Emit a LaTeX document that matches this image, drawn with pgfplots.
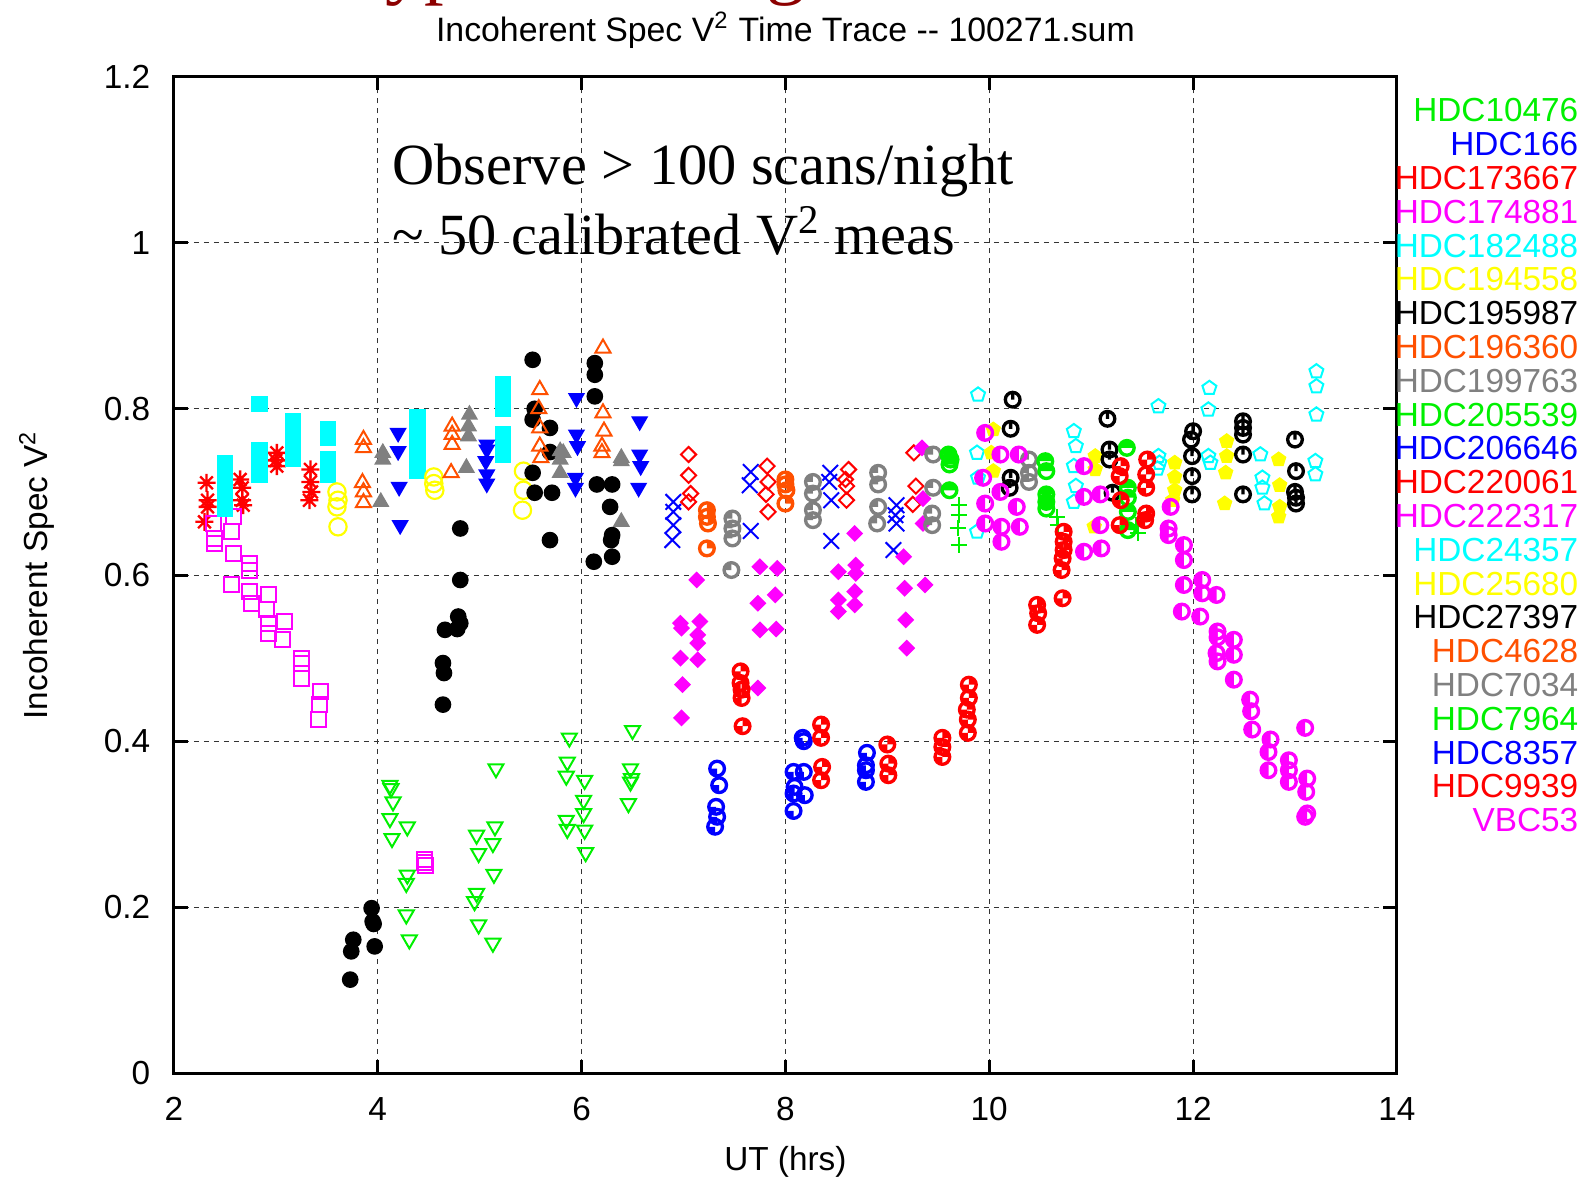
\documentclass[border=0pt]{standalone}
\usepackage{pgfplots}
\pgfplotsset{compat=1.18}
\usepackage{fontspec}
\setmainfont{Liberation Sans}
\newfontfamily\tnr{Liberation Serif}
\definecolor{cgreen}{RGB}{0,240,0}
\definecolor{cblue}{RGB}{0,0,255}
\definecolor{cred}{RGB}{255,0,0}
\definecolor{cmag}{RGB}{255,0,255}
\definecolor{ccyan}{RGB}{0,255,255}
\definecolor{cyel}{RGB}{255,255,0}
\definecolor{corange}{RGB}{255,80,0}
\definecolor{cgray}{RGB}{128,128,128}
\definecolor{titlered}{RGB}{140,0,0}
\pgfdeclareplotmark{gstar}{%
  \pgfpathmoveto{\pgfqpoint{-\pgfplotmarksize}{0pt}}\pgfpathlineto{\pgfqpoint{\pgfplotmarksize}{0pt}}%
  \pgfpathmoveto{\pgfqpoint{0pt}{-\pgfplotmarksize}}\pgfpathlineto{\pgfqpoint{0pt}{\pgfplotmarksize}}%
  \pgfpathmoveto{\pgfqpoint{-.707\pgfplotmarksize}{-.707\pgfplotmarksize}}\pgfpathlineto{\pgfqpoint{.707\pgfplotmarksize}{.707\pgfplotmarksize}}%
  \pgfpathmoveto{\pgfqpoint{-.707\pgfplotmarksize}{.707\pgfplotmarksize}}\pgfpathlineto{\pgfqpoint{.707\pgfplotmarksize}{-.707\pgfplotmarksize}}%
  \pgfusepathqstroke}
\newcommand\gpwedge[2]{\pgfpathmoveto{\pgfpointorigin}\pgfpathlineto{\pgfpointpolar{#1}{\pgfplotmarksize}}\pgfpatharc{#1}{#2}{\pgfplotmarksize}\pgfpathclose}
\newcommand\gpcircle{\pgfpathcircle{\pgfpointorigin}{\pgfplotmarksize}\pgfusepathqstroke}
\pgfdeclareplotmark{C0}{\pgfpathcircle{\pgfpointorigin}{\pgfplotmarksize}\pgfpathmoveto{\pgfpointorigin}\pgfpathlineto{\pgfqpoint{0pt}{\pgfplotmarksize}}\pgfusepathqstroke}
\pgfdeclareplotmark{C1}{\gpwedge{0}{90}\pgfusepathqfill\gpcircle}
\pgfdeclareplotmark{C2}{\gpwedge{90}{180}\pgfusepathqfill\gpcircle}
\pgfdeclareplotmark{C3}{\gpwedge{0}{180}\pgfusepathqfill\gpcircle}
\pgfdeclareplotmark{C4}{\gpwedge{180}{270}\pgfusepathqfill\gpcircle}
\pgfdeclareplotmark{C5}{\gpwedge{0}{90}\gpwedge{180}{270}\pgfusepathqfill\gpcircle}
\pgfdeclareplotmark{C6}{\gpwedge{90}{270}\pgfusepathqfill\gpcircle}
\begin{document}
\begin{tikzpicture}
\begin{axis}[
  width=366.9pt, height=299.1pt, scale only axis,
  xmin=2, xmax=14, ymin=0, ymax=1.2,
  xtick={2,4,6,8,10,12,14},
  ytick={0,0.2,0.4,0.6,0.8,1,1.2},
  yticklabels={0,0.2,0.4,0.6,0.8,1,1.2},
  grid=major,
  major grid style={black!80, line width=0.3pt, dash pattern=on 1.5pt off 1.5pt},
  axis line style={line width=0.9pt},
  tick style={line width=0.9pt, black},
  major tick length=4.2pt,
  /pgf/number format/assume math mode=true,
  ticklabel style={font=\fontsize{10}{12}\selectfont},
  xticklabel style={yshift=-3.7pt},
  yticklabel style={xshift=-3.6pt},
  xlabel={UT (hrs)},
  ylabel={Incoherent Spec V\textsuperscript{2}},
  every axis x label/.style={at={(axis description cs:0.5,-0.0968)}, anchor=base, font=\fontsize{10}{12}\selectfont},
  every axis y label/.style={at={(axis description cs:-0.1033,0.5)}, rotate=90, anchor=base, font=\fontsize{10}{12}\selectfont},
  title={Incoherent Spec V\textsuperscript{2} Time Trace -{}- 100271.sum},
  every axis title/.style={at={(axis description cs:0.5,1.0356)}, anchor=base, font=\fontsize{10.15}{12}\selectfont},
  legend image code/.code={},
  legend cell align=right,
  legend style={at={(axis description cs:1.1488,0.9796)}, anchor=north east, draw=none, fill=none,
    inner sep=0pt, row sep=0pt,
    nodes={inner sep=0pt, text height=7.3pt, text depth=2.84pt, font=\fontsize{10}{12}\selectfont}},
]
% 1 HDC10476
\addplot[only marks, mark=+, color=cgreen, mark size=2.4pt, line width=0.6pt] coordinates {
(9.70,0.684)(9.70,0.672)(9.69,0.656)(9.70,0.636)(10.66,0.670)(10.67,0.660)(11.46,0.650)(11.44,0.660)};
\addlegendentry[text=cgreen]{HDC10476}
% 2 HDC166
\addplot[only marks, mark=x, color=cblue, mark size=3.3pt, line width=0.6pt] coordinates {
(6.90,0.688)(6.90,0.676)(6.90,0.660)(6.89,0.642)(7.66,0.724)(7.65,0.708)(7.66,0.653)
(8.44,0.723)(8.43,0.712)(8.45,0.690)(8.45,0.641)(9.09,0.684)(9.08,0.672)(9.09,0.662)(9.06,0.630)};
\addlegendentry[text=cblue]{HDC166}
% 3 HDC173667
\addplot[only marks, mark=gstar, color=cred, mark size=2.7pt, line width=0.7pt] coordinates {
(2.32,0.711)(2.33,0.682)(2.30,0.664)(2.33,0.690)(2.65,0.715)(2.67,0.705)(2.67,0.690)(2.68,0.684)
(3.01,0.747)(3.01,0.731)(3.00,0.738)(3.34,0.727)(3.34,0.712)(3.33,0.690)(3.35,0.700)};
\addlegendentry[text=cred]{HDC173667}
% 4 HDC174881
\addplot[only marks, mark=square, color=cmag, mark size=2.25pt, line width=0.6pt] coordinates {
(2.39,0.662)(2.58,0.670)(2.57,0.652)(2.40,0.644)(2.40,0.638)(2.58,0.626)(2.74,0.614)(2.74,0.606)
(2.57,0.589)(2.74,0.580)(2.76,0.566)(2.93,0.576)(2.91,0.558)(2.93,0.542)(2.93,0.530)(3.09,0.544)
(3.07,0.522)(3.25,0.500)(3.25,0.494)(3.25,0.476)(3.44,0.460)(3.43,0.444)(3.42,0.426)
(4.46,0.258)(4.47,0.250)(4.46,0.254)};
\addlegendentry[text=cmag]{HDC174881}
% 5 HDC182488
\addplot[only marks, mark=square*, color=ccyan, mark size=2.25pt] coordinates {
(2.50,0.735)(2.50,0.720)(2.50,0.705)(2.50,0.695)(2.50,0.680)
(2.84,0.806)(2.84,0.750)(2.84,0.740)(2.84,0.730)(2.84,0.720)
(3.17,0.785)(3.17,0.770)(3.17,0.755)(3.17,0.740)
(3.51,0.775)(3.51,0.765)(3.51,0.740)(3.51,0.720)
(4.39,0.790)(4.39,0.780)(4.39,0.765)(4.39,0.750)(4.39,0.735)(4.39,0.725)
(5.23,0.830)(5.23,0.810)(5.23,0.800)(5.23,0.770)(5.23,0.755)(5.23,0.745)};
\addlegendentry[text=ccyan]{HDC182488}
% 6 HDC194558
\addplot[only marks, mark=o, color=cyel, mark size=2.6pt, line width=0.65pt] coordinates {
(3.60,0.700)(3.61,0.690)(3.60,0.682)(3.61,0.658)(4.55,0.718)(4.55,0.710)(4.56,0.702)
(5.43,0.725)(5.43,0.702)(5.42,0.678)};
\addlegendentry[text=cyel]{HDC194558}
% 7 HDC195987
\addplot[only marks, mark=*, color=black, mark size=2.3pt] coordinates {
(3.73,0.113)(3.74,0.147)(3.76,0.161)(3.94,0.199)(3.96,0.180)(3.97,0.153)(3.95,0.183)
(4.81,0.656)(4.81,0.594)(4.79,0.550)(4.81,0.542)(4.78,0.535)(4.66,0.534)(4.64,0.494)(4.65,0.482)(4.64,0.444)
(5.52,0.859)(5.54,0.800)(5.52,0.787)(5.52,0.723)(5.54,0.699)(5.69,0.777)(5.69,0.748)(5.71,0.699)(5.69,0.642)
(6.13,0.855)(6.13,0.841)(6.13,0.815)(6.15,0.709)(6.30,0.709)(6.28,0.682)(6.30,0.648)(6.29,0.642)(6.30,0.622)(6.12,0.616)};
\addlegendentry[text=black]{HDC195987}
% 8 HDC196360
\addplot[only marks, mark=triangle, color=corange, mark size=2.6pt, line width=0.6pt] coordinates {
(3.86,0.763)(3.86,0.753)(3.85,0.711)(3.86,0.700)(3.86,0.687)(4.73,0.779)(4.73,0.769)(4.73,0.757)(4.72,0.723)
(5.59,0.823)(5.58,0.800)(5.59,0.777)(5.59,0.755)(5.60,0.741)
(6.21,0.873)(6.21,0.795)(6.22,0.773)(6.20,0.755)(6.20,0.747)};
\addlegendentry[text=corange]{HDC196360}
% 9 HDC199763
\addplot[only marks, mark=triangle*, color=cgray, mark size=2.6pt] coordinates {
(4.05,0.747)(4.05,0.739)(4.03,0.688)(4.90,0.793)(4.89,0.779)(4.89,0.767)(4.87,0.729)
(5.79,0.749)(5.79,0.739)(5.79,0.723)(5.82,0.747)(6.39,0.741)(6.39,0.737)(6.39,0.664)};
\addlegendentry[text=cgray]{HDC199763}
% 10 HDC205539
\addplot[only marks, mark=triangle, mark options={rotate=180}, color=cgreen, mark size=2.6pt, line width=0.6pt] coordinates {
(4.12,0.347)(4.13,0.343)(4.15,0.327)(4.12,0.307)(4.14,0.283)(4.29,0.297)(4.29,0.239)(4.28,0.229)(4.28,0.191)(4.31,0.161)
(5.16,0.367)(4.97,0.287)(5.15,0.297)(4.99,0.265)(5.13,0.277)(5.14,0.240)(4.97,0.217)(4.95,0.207)(4.99,0.179)(5.13,0.157)
(5.88,0.404)(5.86,0.375)(5.85,0.358)(6.03,0.353)(6.02,0.329)(6.02,0.313)(5.85,0.305)(5.86,0.294)(6.03,0.293)(6.04,0.266)
(6.50,0.413)(6.48,0.367)(6.48,0.351)(6.46,0.325)(6.49,0.355)};
\addlegendentry[text=cgreen]{HDC205539}
% 11 HDC206646
\addplot[only marks, mark=triangle*, mark options={rotate=180}, color=cblue, mark size=2.6pt] coordinates {
(4.20,0.771)(4.20,0.749)(4.21,0.706)(4.22,0.660)(5.07,0.757)(5.07,0.751)(5.06,0.737)(5.07,0.721)(5.07,0.710)
(5.95,0.813)(5.95,0.769)(5.96,0.755)(5.94,0.717)(5.94,0.705)(6.57,0.785)(6.57,0.745)(6.58,0.731)(6.56,0.705)};
\addlegendentry[text=cblue]{HDC206646}
% 12 HDC220061
\addplot[only marks, mark=square, mark options={rotate=45}, color=cred, mark size=1.6pt, line width=0.6pt] coordinates {
(7.05,0.745)(7.05,0.720)(7.07,0.698)(7.05,0.688)(7.82,0.731)(7.83,0.712)(7.81,0.697)(7.83,0.676)
(8.62,0.727)(8.59,0.715)(8.60,0.707)(8.60,0.690)(9.26,0.747)(9.28,0.707)(9.25,0.685)};
\addlegendentry[text=cred]{HDC220061}
% 13 HDC222317
\addplot[only marks, mark=square*, mark options={rotate=45}, color=cmag, mark size=1.6pt] coordinates {
(7.13,0.594)(6.97,0.542)(6.98,0.536)(7.16,0.544)(7.14,0.528)(7.14,0.518)(6.97,0.500)(7.14,0.498)(6.99,0.468)(6.98,0.428)
(7.75,0.610)(7.92,0.608)(7.73,0.566)(7.90,0.576)(7.75,0.534)(7.91,0.535)(7.73,0.464)
(8.52,0.604)(8.68,0.650)(8.69,0.612)(8.69,0.602)(8.52,0.570)(8.68,0.580)(8.52,0.556)(8.68,0.564)
(9.16,0.622)(9.17,0.584)(9.37,0.588)(9.18,0.546)(9.19,0.512)(9.34,0.753)(9.35,0.692)(9.35,0.662)};
\addlegendentry[text=cmag]{HDC222317}
% 14 HDC24357
\addplot[only marks, mark=pentagon, color=ccyan, mark size=2.2pt, line width=0.6pt] coordinates {
(9.89,0.817)(9.88,0.747)(9.89,0.717)(9.88,0.652)(10.83,0.773)(10.85,0.755)(10.83,0.731)(10.85,0.707)(10.83,0.688)
(11.66,0.803)(11.66,0.743)(11.67,0.735)(11.65,0.728)(12.16,0.825)(12.15,0.799)(12.15,0.743)(12.17,0.735)
(12.66,0.745)(12.68,0.717)(12.68,0.705)(12.70,0.686)(13.21,0.845)(13.21,0.827)(13.21,0.793)(13.20,0.737)(13.20,0.721)};
\addlegendentry[text=ccyan]{HDC24357}
% 15 HDC25680
\addplot[only marks, mark=pentagon*, color=cyel, mark size=2.2pt] coordinates {
(10.04,0.775)(10.02,0.747)(10.04,0.725)(11.04,0.743)(11.04,0.727)(11.03,0.658)
(11.82,0.735)(11.82,0.718)(11.82,0.702)(11.80,0.690)(12.33,0.761)(12.33,0.743)(12.32,0.723)(12.31,0.686)
(12.84,0.739)(12.85,0.708)(12.85,0.682)(12.84,0.670)};
\addlegendentry[text=cyel]{HDC25680}
% 16 HDC27397
\addplot[only marks, mark=C0, color=black, mark size=2.2pt, line width=1pt] coordinates {
(10.23,0.811)(10.21,0.776)(10.21,0.717)(10.20,0.705)(11.16,0.788)(11.18,0.751)(11.18,0.739)(11.21,0.699)
(12.00,0.773)(11.98,0.763)(11.99,0.743)(11.99,0.719)(11.99,0.697)(12.49,0.785)(12.49,0.777)(12.49,0.769)(12.49,0.745)(12.49,0.697)
(13.00,0.763)(13.01,0.725)(13.00,0.700)(13.01,0.693)(13.01,0.686)};
\addlegendentry[text=black]{HDC27397}
% 17 HDC4628
\addplot[only marks, mark=C1, color=corange, mark size=2.2pt, line width=1pt] coordinates {
(7.23,0.678)(7.23,0.670)(7.24,0.662)(7.23,0.632)(8.00,0.715)(8.00,0.709)(8.01,0.702)(8.00,0.686)};
\addlegendentry[text=corange]{HDC4628}
% 18 HDC7034
\addplot[only marks, mark=C2, color=cgray, mark size=2.2pt, line width=1pt] coordinates {
(7.48,0.668)(7.48,0.656)(7.48,0.644)(7.47,0.606)(8.27,0.712)(8.27,0.698)(8.27,0.678)(8.27,0.666)
(8.91,0.723)(8.91,0.709)(8.91,0.682)(8.90,0.662)(9.45,0.745)(9.45,0.705)(9.44,0.674)(9.44,0.660)
(10.39,0.739)(10.39,0.723)(10.39,0.712)};
\addlegendentry[text=cgray]{HDC7034}
% 19 HDC7964
\addplot[only marks, mark=C3, color=cgreen, mark size=2.2pt, line width=1pt] coordinates {
(9.60,0.745)(9.62,0.739)(9.61,0.733)(9.61,0.702)(10.55,0.737)(10.56,0.725)(10.56,0.697)(10.56,0.688)(10.56,0.680)
(11.35,0.753)(11.36,0.705)(11.36,0.693)(11.36,0.676)(11.36,0.654)};
\addlegendentry[text=cgreen]{HDC7964}
% 20 HDC8357
\addplot[only marks, mark=C4, color=cblue, mark size=2.2pt, line width=1pt] coordinates {
(7.33,0.367)(7.35,0.347)(7.32,0.321)(7.33,0.309)(7.31,0.297)(8.17,0.404)(8.18,0.400)(8.08,0.363)(8.18,0.363)
(8.09,0.345)(8.08,0.337)(8.19,0.335)(8.08,0.316)(8.80,0.386)(8.79,0.371)(8.79,0.365)(8.79,0.351)};
\addlegendentry[text=cblue]{HDC8357}
% 21 HDC9939
\addplot[only marks, mark=C5, color=cred, mark size=2.2pt, line width=1pt] coordinates {
(7.56,0.484)(7.56,0.470)(7.57,0.462)(7.57,0.452)(7.58,0.418)(8.35,0.420)(8.35,0.404)(8.36,0.369)(8.35,0.353)
(9.00,0.396)(9.01,0.373)(9.01,0.359)(9.54,0.404)(9.54,0.393)(9.54,0.381)
(9.80,0.468)(9.80,0.452)(9.78,0.438)(9.79,0.426)(9.79,0.410)(10.47,0.564)(10.48,0.554)(10.47,0.540)(10.72,0.572)
(10.73,0.652)(10.73,0.640)(10.73,0.630)(10.72,0.620)(10.71,0.606)(11.29,0.731)(11.28,0.719)(11.29,0.690)(11.28,0.660)
(11.55,0.739)(11.54,0.721)(11.54,0.705)(11.54,0.674)(11.53,0.666)};
\addlegendentry[text=cred]{HDC9939}
% 22 VBC53
\addplot[only marks, mark=C6, color=cmag, mark size=2.2pt, line width=1pt] coordinates {
(9.96,0.771)(9.94,0.717)(10.11,0.745)(10.29,0.745)(10.11,0.700)(10.27,0.682)(9.96,0.686)(9.96,0.662)(10.12,0.658)
(10.30,0.658)(10.12,0.640)(10.93,0.731)(10.93,0.694)(11.09,0.697)(11.09,0.660)(10.93,0.628)(11.10,0.632)
(11.78,0.682)(11.76,0.656)(11.76,0.648)(11.91,0.636)(11.91,0.618)(11.91,0.588)(12.09,0.594)(12.09,0.578)(12.23,0.576)
(11.89,0.556)(12.07,0.550)(12.24,0.532)(12.24,0.525)(12.40,0.522)(12.23,0.506)(12.40,0.504)(12.24,0.496)(12.40,0.474)
(12.56,0.450)(12.57,0.436)(12.58,0.414)(13.10,0.416)(12.76,0.402)(12.74,0.387)(12.74,0.365)(12.94,0.377)(12.94,0.365)
(12.94,0.351)(13.12,0.355)(13.11,0.339)(13.12,0.313)(13.10,0.309)};
\addlegendentry[text=cmag]{VBC53}
\end{axis}
\node[anchor=base west, inner sep=0pt, font=\tnr\fontsize{17.5}{21}\selectfont] at (65.4pt,266.6pt) {Observe > 100 scans/night};
\node[anchor=base west, inner sep=0pt, font=\tnr\fontsize{17.5}{21}\selectfont] at (65.4pt,245.6pt) {\textasciitilde{} 50 calibrated V\textsuperscript{2} meas};
\node[anchor=base west, inner sep=0pt, text=titlered, font=\tnr\fontsize{23.5}{28}\selectfont] at (50.4pt,325.15pt) {Typical V\textsuperscript{2} Signal};
\pgfresetboundingbox
\path[use as bounding box] (-52.17pt,-31.35pt) rectangle (423.33pt,322.05pt);
\end{tikzpicture}
\end{document}
